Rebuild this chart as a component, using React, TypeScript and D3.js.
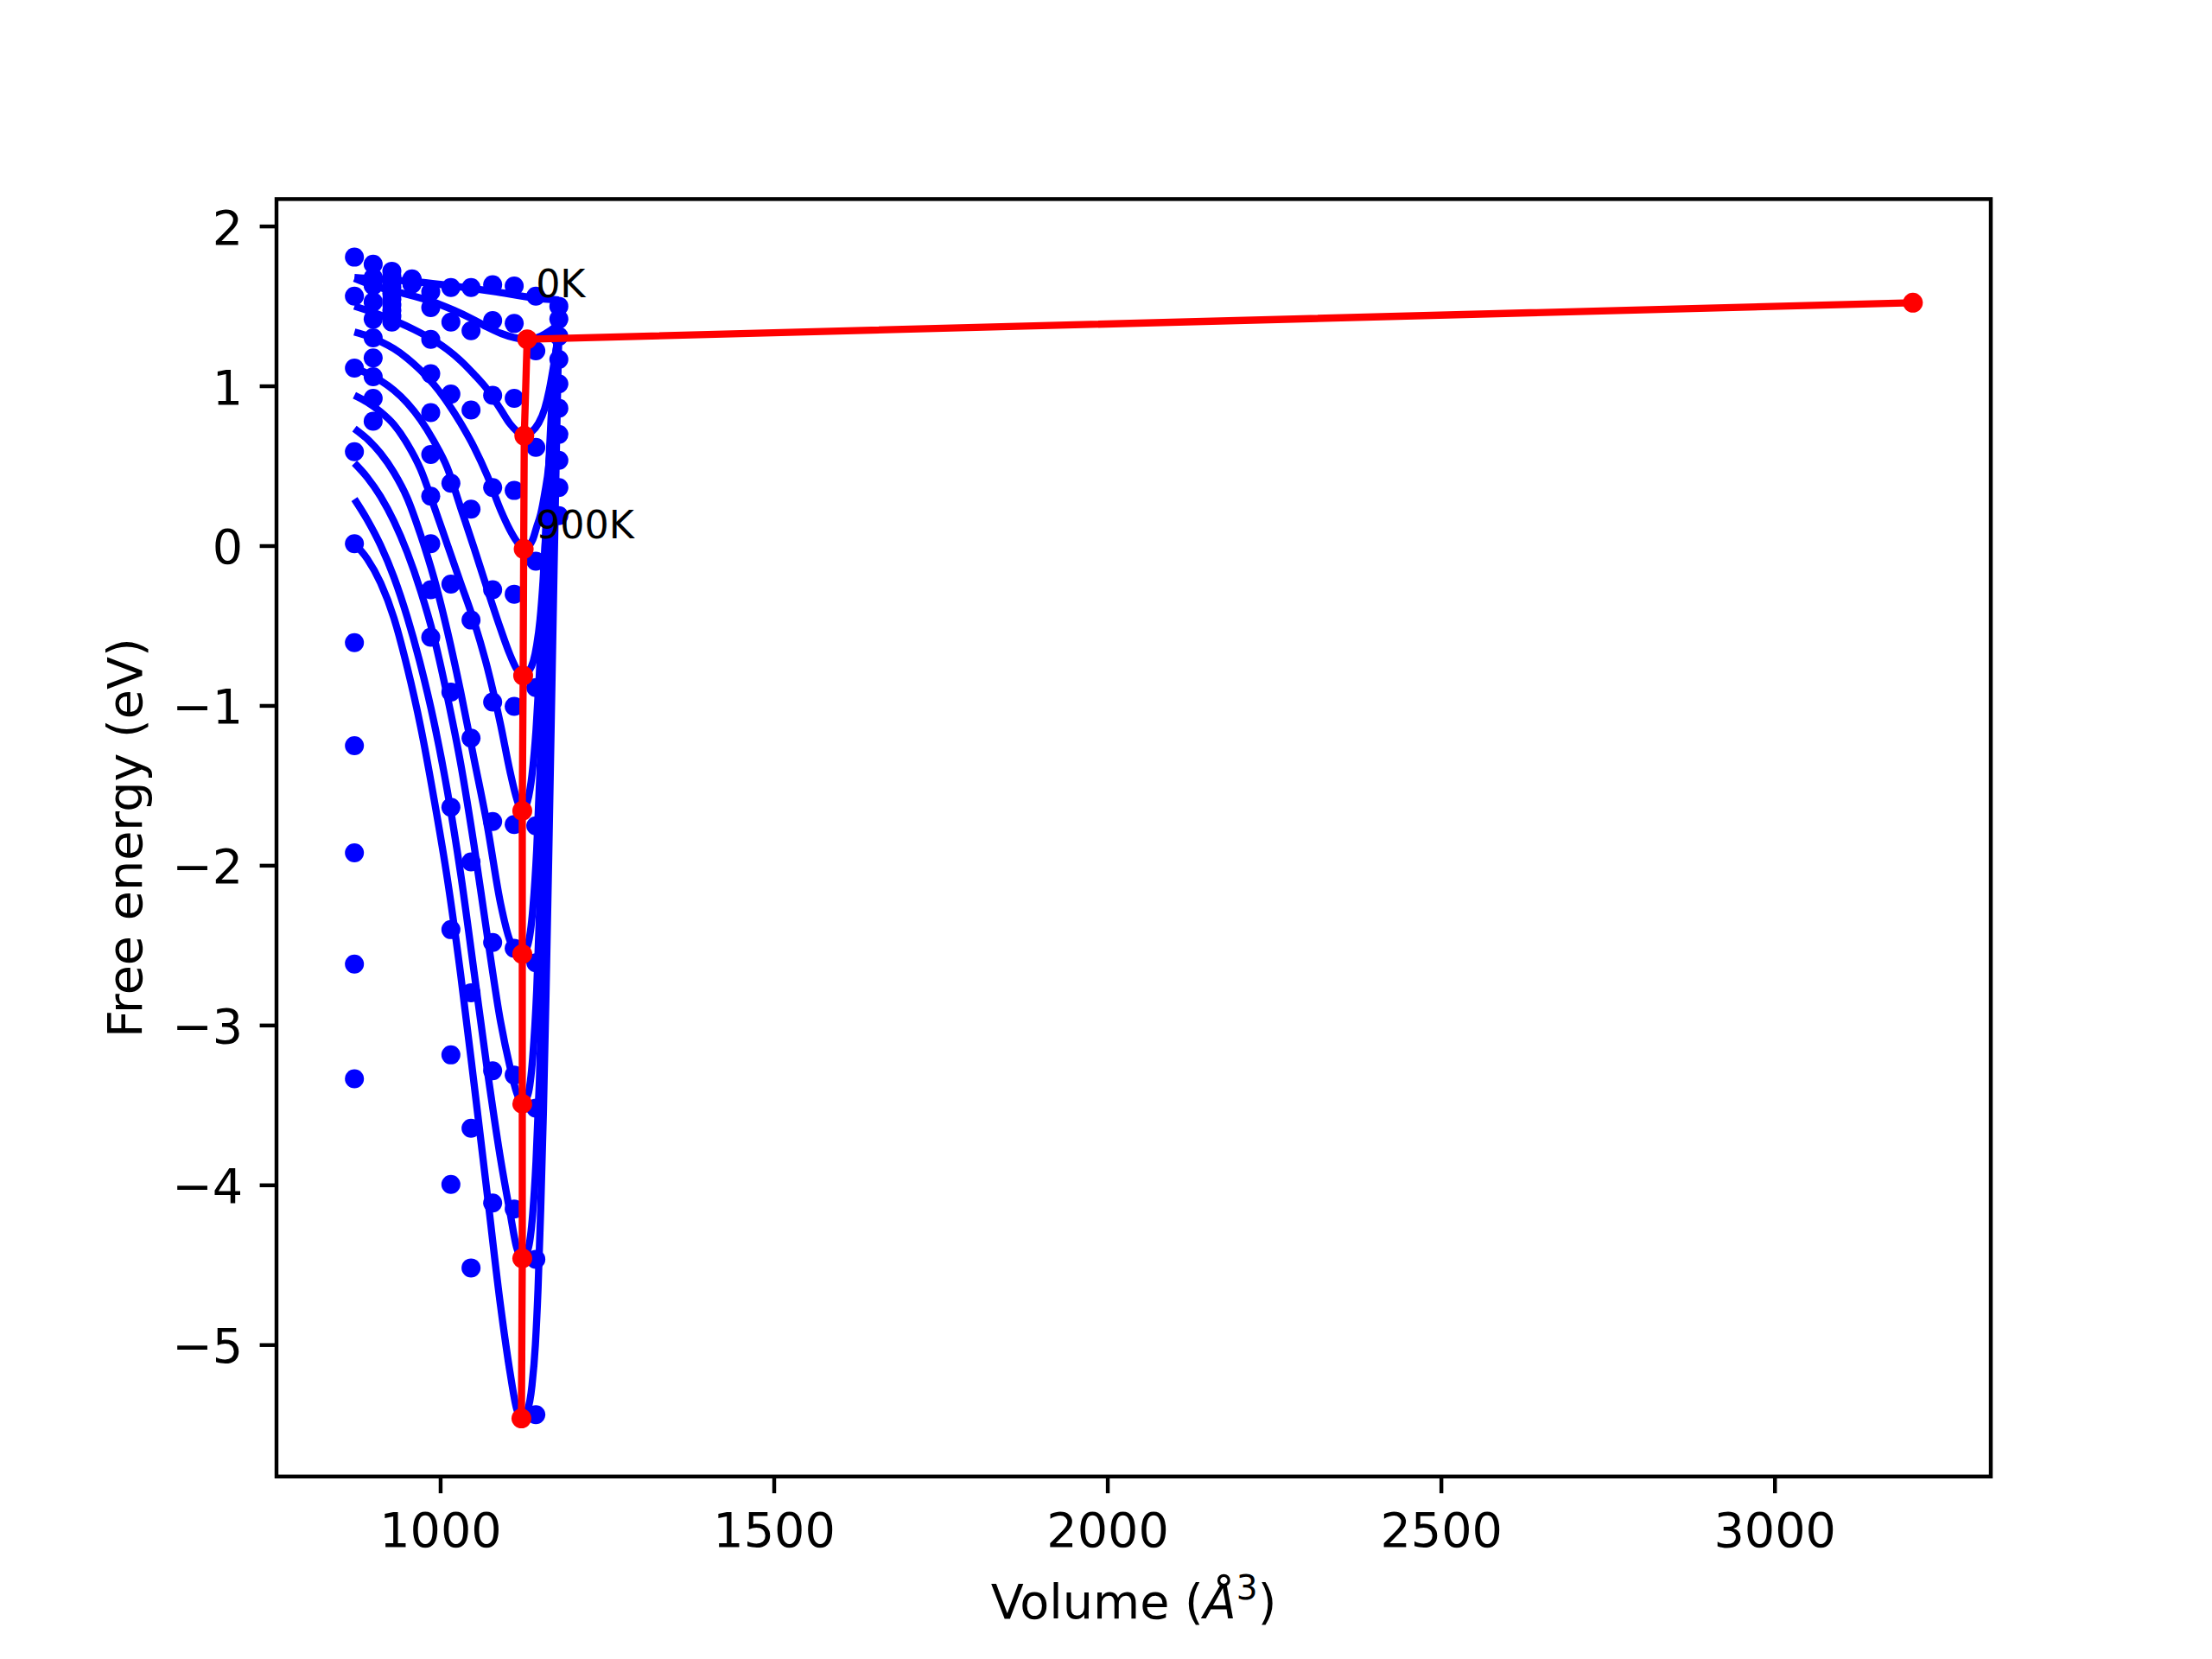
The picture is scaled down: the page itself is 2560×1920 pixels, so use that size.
import React from "react";
import * as d3 from "d3";

const W = 2560;
const H = 1920;
const AX = { left: 320, right: 2304, top: 230.4, bottom: 1708.8 };
const blue = "#0000ff";
const red = "#ff0000";
const font = "DejaVu Sans";

// volumes of the sampled points, A^3
const dotVolumes = [870.8, 898.9, 926.9, 957.1, 985.2, 1015.4, 1045.6, 1078.0, 1110.3, 1142.7, 1177.2];

// free energies (eV) at each sampled volume
const dotsV0 = [1.808, 1.564, 1.114, 0.591, 0.015, -0.604, -1.249, -1.92, -2.616, -3.334];
const dotsV1 = [1.764, 1.68, 1.63, 1.528, 1.42, 1.303, 1.177, 1.06, 0.925, 0.781];
const dotsV2 = [1.72, 1.69, 1.65, 1.62, 1.58, 1.545, 1.51, 1.475, 1.44, 1.402];
const dotsV3 = [1.672, 1.668, 1.664, 1.66, 1.656, 1.652, 1.648, 1.645, 1.642, 1.64];
const dotsV4 = [1.591, 1.492, 1.294, 1.078, 0.835, 0.573, 0.312, 0.015, -0.273, -0.571];
const dotsV5 = [1.618, 1.402, 0.951, 0.393, -0.238, -0.914, -1.634, -2.4, -3.184, -3.995];
const dotsV6 = [1.618, 1.348, 0.852, 0.231, -0.463, -1.202, -1.976, -2.796, -3.643, -4.517];
const dotsV7 = [1.636, 1.411, 0.943, 0.366, -0.273, -0.976, -1.724, -2.481, -3.283, -4.111];
const dotsV8 = [1.627, 1.393, 0.925, 0.348, -0.301, -1.003, -1.742, -2.517, -3.31, -4.148];
const dotsV9 = [1.564, 1.222, 0.618, -0.095, -0.886, -1.751, -2.607, -3.517, -4.463, -5.436];
const dotsV10 = [1.501, 1.42, 1.312, 1.168, 1.015, 0.862, 0.699, 0.537, 0.366, 0.19];
const dotColumns = [dotsV0, dotsV1, dotsV2, dotsV3, dotsV4, dotsV5, dotsV6, dotsV7, dotsV8, dotsV9, dotsV10];

// fitted curves [volume, energy]
const curve0K: [number, number][] = [
  [870.8, 1.681], [900, 1.672], [960, 1.655], [1020, 1.627], [1080, 1.593], [1140, 1.553], [1177, 1.54],
];
const curve100K: [number, number][] = [
  [870.8, 1.675], [901, 1.627], [940, 1.585], [987, 1.53], [1020, 1.475], [1048, 1.42], [1070, 1.37],
  [1091, 1.33], [1110, 1.305], [1129.7, 1.294], [1140, 1.298], [1151, 1.315], [1163, 1.345], [1177, 1.39],
];
const curve200K: [number, number][] = [
  [870.8, 1.501], [900, 1.46], [935.5, 1.402], [960, 1.355], [987, 1.294], [1010, 1.23], [1030, 1.16],
  [1050, 1.075], [1070, 0.98], [1090, 0.855], [1104, 0.765], [1114, 0.72], [1125.4, 0.69],
  [1135, 0.71], [1147, 0.77], [1156, 0.86], [1163, 0.98], [1169, 1.12], [1174, 1.25], [1177, 1.33],
];
const curve300K: [number, number][] = [
  [870.8, 1.339], [890, 1.315], [910, 1.28], [930, 1.235], [950, 1.175], [970, 1.1], [990, 1.01],
  [1010, 0.9], [1030, 0.77], [1050, 0.62], [1070, 0.44], [1090, 0.225], [1104, 0.1], [1114, 0.03],
  [1124.5, -0.018], [1132, 0.0], [1138, 0.04], [1144, 0.12], [1150, 0.2], [1156, 0.33], [1162, 0.5],
  [1166, 0.72], [1170, 0.95], [1174, 1.18], [1177, 1.38],
];
const curve400K: [number, number][] = [
  [870.8, 1.114], [890, 1.08], [910, 1.035], [930, 0.975], [950, 0.895], [970, 0.79], [990, 0.655],
  [1010, 0.49], [1030, 0.24], [1050, -0.01], [1070, -0.27], [1090, -0.52], [1104, -0.68], [1114, -0.77],
  [1123.7, -0.811], [1132, -0.785], [1139, -0.72], [1144, -0.62], [1149, -0.46], [1153.5, -0.22],
  [1158, 0.12], [1163, 0.52], [1168, 0.9], [1173, 1.2], [1177, 1.36],
];
const curve500K: [number, number][] = [
  [870.8, 0.943], [890, 0.9], [910, 0.84], [930, 0.76], [950, 0.64], [970, 0.48], [990, 0.25],
  [1010, 0.01], [1030, -0.23], [1050, -0.47], [1070, -0.76], [1090, -1.12], [1104, -1.41], [1114, -1.58],
  [1122.4, -1.657], [1130, -1.6], [1137, -1.43], [1143, -1.15], [1148, -0.8], [1153, -0.36],
  [1158, 0.12], [1163, 0.58], [1168, 0.98], [1173, 1.22], [1177, 1.35],
];
const curve600K: [number, number][] = [
  [870.8, 0.735], [890, 0.67], [910, 0.58], [930, 0.46], [950, 0.3], [970, 0.07], [990, -0.2],
  [1010, -0.53], [1030, -0.91], [1050, -1.33], [1070, -1.75], [1090, -2.24], [1104, -2.47], [1114, -2.54],
  [1122.4, -2.553], [1131, -2.49], [1138, -2.28], [1144, -1.9], [1149, -1.4], [1154, -0.8],
  [1159, -0.15], [1164, 0.45], [1169, 0.92], [1173, 1.18], [1177, 1.33],
];
const curve700K: [number, number][] = [
  [870.8, 0.519], [890, 0.43], [910, 0.31], [930, 0.155], [950, -0.04], [970, -0.28], [990, -0.57],
  [1010, -0.94], [1030, -1.36], [1050, -1.87], [1070, -2.44], [1090, -2.98], [1104, -3.26], [1114, -3.42],
  [1122.4, -3.49], [1131, -3.43], [1138, -3.2], [1144, -2.78], [1149, -2.2], [1154, -1.5],
  [1159, -0.7], [1164, 0.1], [1169, 0.75], [1173, 1.12], [1177, 1.33],
];
const curve800K: [number, number][] = [
  [870.8, 0.294], [890, 0.165], [910, 0.005], [930, -0.195], [950, -0.445], [970, -0.745], [990, -1.1],
  [1010, -1.53], [1030, -2.05], [1050, -2.66], [1070, -3.28], [1090, -3.84], [1104, -4.17], [1114, -4.39],
  [1122.4, -4.457], [1131, -4.4], [1138, -4.18], [1143, -3.85], [1148, -3.35], [1153, -2.65],
  [1158, -1.8], [1163, -0.85], [1168, 0.1], [1173, 0.85], [1177, 1.33],
];
const curve900K: [number, number][] = [
  [870.8, 0.015], [890, -0.08], [910, -0.23], [930, -0.45], [950, -0.76], [970, -1.13], [990, -1.58],
  [1010, -2.08], [1030, -2.68], [1050, -3.36], [1070, -4.06], [1090, -4.76], [1104, -5.17], [1114, -5.4],
  [1121.1, -5.459], [1130, -5.41], [1137, -5.25], [1142, -5.0], [1146, -4.65], [1150, -4.15],
  [1154, -3.55], [1158, -2.8], [1162, -1.95], [1166, -1.05], [1170, -0.15], [1174, 0.7], [1177, 1.33],
];
const fitCurves = [
  curve0K, curve100K, curve200K, curve300K, curve400K,
  curve500K, curve600K, curve700K, curve800K, curve900K,
];

// minimum of every fit, 0K .. 900K
const minVolumes = [3206.7, 1129.7, 1125.4, 1124.5, 1123.7, 1122.4, 1122.4, 1122.4, 1122.4, 1121.1];
const minEnergies = [1.523, 1.294, 0.69, -0.018, -0.811, -1.657, -2.553, -3.49, -4.457, -5.459];

const noteTexts = ["0K", "900K"];
const noteVolumes = [1142.7, 1142.7];
const noteEnergies = [1.555, 0.05];

const xTicks = [1000, 1500, 2000, 2500, 3000];
const yTicks = [-5, -4, -3, -2, -1, 0, 1, 2];

const pad = ([a, b]: number[]) => {
  const r = b - a;
  return [a - 0.05 * r, b + 0.05 * r];
};
const fmt = (v: number) => (v < 0 ? "\u2212" + Math.abs(v) : String(v));

export default function App() {
  const allV = [...dotVolumes, ...fitCurves.flat().map((p) => p[0]), ...minVolumes];
  const allF = [...dotColumns.flat(), ...fitCurves.flat().map((p) => p[1]), ...minEnergies];
  const x = d3.scaleLinear().domain(pad(d3.extent(allV) as number[])).range([AX.left, AX.right]);
  const y = d3.scaleLinear().domain(pad(d3.extent(allF) as number[])).range([AX.bottom, AX.top]);

  const smooth = d3
    .line<[number, number]>()
    .x((d) => x(d[0]))
    .y((d) => y(d[1]))
    .curve(d3.curveMonotoneX);
  const straight = d3
    .line<number>()
    .x((i) => x(minVolumes[i]))
    .y((i) => y(minEnergies[i]));

  const tickLen = 19.4;
  const fs = 55.6;

  return (
    <div style={{ position: "absolute", left: 0, top: 0 }}>
      <svg width={W} height={H} style={{ display: "block", background: "#fff" }} fontFamily={font}>
        <rect width={W} height={H} fill="#fff" />
        <defs>
          <clipPath id="plotArea">
            <rect x={AX.left} y={AX.top} width={AX.right - AX.left} height={AX.bottom - AX.top} />
          </clipPath>
        </defs>
        <g clipPath="url(#plotArea)">
          {dotColumns.map((col, ci) =>
            col.map((f, k) => (
              <circle key={`d${ci}-${k}`} cx={x(dotVolumes[ci])} cy={y(f)} r={11} fill={blue} />
            ))
          )}
          {fitCurves.map((c, i) => (
            <path
              key={`c${i}`}
              d={smooth(c) || ""}
              fill="none"
              stroke={blue}
              strokeWidth={8.33}
              strokeLinejoin="round"
              strokeLinecap="butt"
            />
          ))}
          <path
            d={straight(d3.range(minVolumes.length)) || ""}
            fill="none"
            stroke={red}
            strokeWidth={8.33}
            strokeLinejoin="round"
          />
          {minVolumes.map((v, i) => (
            <circle key={`m${i}`} cx={x(v)} cy={y(minEnergies[i])} r={11.5} fill={red} />
          ))}
        </g>
        {noteTexts.map((t, i) => (
          <text key={t} x={x(noteVolumes[i])} y={y(noteEnergies[i])} fontSize={44.4} fill="#000">
            {t}
          </text>
        ))}

        {/* frame */}
        <rect
          x={AX.left}
          y={AX.top}
          width={AX.right - AX.left}
          height={AX.bottom - AX.top}
          fill="none"
          stroke="#000"
          strokeWidth={4.44}
        />

        {/* x axis */}
        {xTicks.map((t) => (
          <g key={`x${t}`}>
            <line x1={x(t)} x2={x(t)} y1={AX.bottom} y2={AX.bottom + tickLen} stroke="#000" strokeWidth={4.44} />
            <text x={x(t)} y={1789.8} textAnchor="middle" fontSize={fs} fill="#000">
              {fmt(t)}
            </text>
          </g>
        ))}
        {/* y axis */}
        {yTicks.map((t) => (
          <g key={`y${t}`}>
            <line x1={AX.left - tickLen} x2={AX.left} y1={y(t)} y2={y(t)} stroke="#000" strokeWidth={4.44} />
            <text x={AX.left - 2 * tickLen} y={y(t) + 20.5} textAnchor="end" fontSize={fs} fill="#000">
              {fmt(t)}
            </text>
          </g>
        ))}

        <text x={(AX.left + AX.right) / 2} y={1873} textAnchor="middle" fontSize={fs} fill="#000">
          Volume (<tspan fontStyle="italic">Å</tspan>
          <tspan fontSize={39} dy={-22}>3</tspan>
          <tspan dy={22}>)</tspan>
        </text>
        <text
          transform={`translate(164, ${(AX.top + AX.bottom) / 2}) rotate(-90)`}
          textAnchor="middle"
          fontSize={fs}
          fill="#000"
        >
          Free energy (eV)
        </text>
      </svg>
    </div>
  );
}
